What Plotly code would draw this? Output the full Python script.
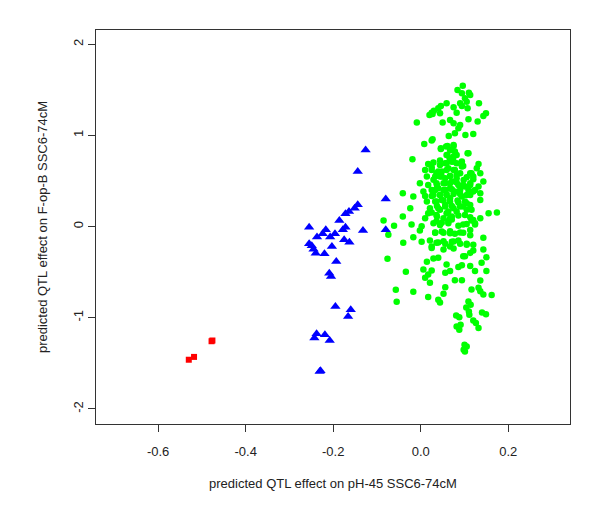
import plotly.graph_objects as go

# ---- data ----
red_x = [-0.530, -0.518, -0.478, -0.476]
red_y = [-1.461, -1.430, -1.258, -1.250]

blue_x = [-0.126, -0.144, -0.080, -0.080, -0.144, -0.151, -0.164, -0.172, -0.186, -0.255,
          -0.217, -0.224, -0.196, -0.178, -0.172, -0.237, -0.207, -0.175, -0.163, -0.132,
          -0.255, -0.249, -0.245, -0.203, -0.240, -0.220, -0.193, -0.209, -0.205, -0.195,
          -0.160, -0.166, -0.238, -0.243, -0.219, -0.208, -0.229, -0.231]
blue_y = [0.841, 0.603, 0.303, -0.036, 0.238, 0.201, 0.165, 0.139, 0.066, -0.007,
          -0.036, -0.080, -0.080, -0.036, -0.007, -0.116, -0.116, -0.146, -0.171, -0.044,
          -0.190, -0.210, -0.248, -0.219, -0.292, -0.299, -0.383, -0.511, -0.548, -0.877,
          -0.913, -0.986, -1.176, -1.223, -1.187, -1.249, -1.581, -1.590]

green_x = [
    # top
    0.096, 0.084, 0.094, 0.110, 0.113, 0.101, 0.090, 0.105, 0.094, 0.133,
    0.046, 0.059, 0.040, 0.030, 0.025, 0.020, 0.027, 0.044, 0.075, 0.107,
    0.082, 0.149, 0.143, -0.009, 0.050, 0.067, 0.075, 0.090, 0.086, 0.109,
    0.130, 0.078, 0.064, 0.102, 0.120, 0.027,
    # upper dense band
    0.046, 0.061, 0.067, 0.059, 0.075, 0.044, 0.059, 0.075, 0.094, 0.097,
    0.132, 0.128, 0.010, 0.025, 0.036, 0.048, 0.063, 0.078, 0.090, 0.116,
    0.136, 0.014, 0.029, 0.044, 0.056, 0.067, 0.082, 0.105, 0.120, 0.143,
    -0.002, 0.017, 0.036, 0.052, 0.067, 0.082, 0.097, 0.113, 0.132, 0.006,
    0.025, 0.040, 0.056, 0.071, 0.090, 0.109, 0.124, -0.041, -0.017, 0.010,
    0.029, 0.044, 0.059, 0.075, 0.094, 0.113, 0.136, 0.014, 0.036, 0.052,
    0.067, 0.086, 0.105, 0.136, 0.021, 0.040, 0.056, 0.075, 0.097, 0.116,
    0.017, 0.036, 0.059, 0.082, 0.101, 0.155, 0.174, 0.067, 0.113, 0.136,
    0.008, 0.025, 0.075, 0.109, 0.082, -0.019, 0.029, 0.017, -0.024, -0.041,
    0.010,
    # core fill
    0.046, 0.058, 0.075, 0.071, 0.078, 0.107, 0.061, 0.066, 0.056, 0.071,
    0.082, 0.025, 0.044, 0.094, 0.059, 0.075, 0.040, 0.113, 0.033, 0.048,
    0.067, 0.082, 0.098, 0.120, 0.037, 0.056, 0.071, 0.086, 0.101, 0.113,
    0.033, 0.052, 0.067, 0.025, 0.044, 0.059, 0.078, 0.090, 0.105, 0.120,
    0.033, 0.048, 0.067, 0.084, 0.101, 0.113, 0.037, 0.056, 0.071, 0.090,
    0.025, 0.044, 0.063, 0.105, 0.037, 0.071, 0.086, 0.052, 0.120, 0.124,
    0.029, 0.044, 0.063, 0.086, 0.105, 0.033, 0.048, 0.067, 0.090, 0.113,
    0.040, 0.056, 0.075, 0.090, 0.105, 0.120, 0.025, 0.067,
    # left stragglers
    -0.061, -0.085, -0.074, -0.076, -0.057,
    # lower dense band
    -0.021, 0.002, 0.036, 0.048, 0.063, 0.071, 0.097, 0.116, 0.124, -0.002,
    0.033, 0.052, 0.067, 0.078, 0.097, 0.113, 0.143, -0.017, -0.040, 0.002,
    0.021, 0.036, 0.052, 0.071, 0.086, 0.105, 0.025, 0.052, 0.075, 0.120,
    0.113, 0.101, 0.143, 0.029, 0.014, 0.040, 0.059, 0.097, 0.139, 0.150,
    0.006, 0.025, 0.017, 0.056, 0.067, 0.086, 0.094, 0.113, 0.124, 0.150,
    -0.034, 0.010, 0.021, 0.078, 0.094, 0.136, -0.017, 0.017, 0.052, 0.056,
    0.116, 0.132, 0.136, 0.143, 0.162,
    # bottom
    0.040, 0.044, -0.055, 0.109, 0.114, 0.104, 0.081, 0.088, 0.110, 0.111,
    0.120, 0.126, 0.132, 0.140, 0.149, 0.082, 0.088, 0.091, 0.100, 0.105,
    0.098, 0.101,
]
green_y = [
    # top
    1.545, 1.498, 1.461, 1.468, 1.443, 1.406, 1.352, 1.370, 1.322, 1.352,
    1.322, 1.352, 1.297, 1.271, 1.249, 1.224, 1.235, 1.242, 1.308, 1.297,
    1.249, 1.242, 1.213, 1.140, 1.140, 1.169, 1.132, 1.114, 1.078, 1.176,
    1.151, 1.023, 0.994, 1.005, 1.016, 0.957,
    # upper dense band
    0.859, 0.884, 0.840, 0.786, 0.768, 0.724, 0.694, 0.713, 0.713, 0.665,
    0.687, 0.639, 0.621, 0.621, 0.585, 0.603, 0.639, 0.621, 0.585, 0.585,
    0.585, 0.548, 0.512, 0.548, 0.530, 0.555, 0.530, 0.541, 0.519, 0.493,
    0.475, 0.457, 0.475, 0.475, 0.475, 0.482, 0.457, 0.475, 0.438, 0.384,
    0.402, 0.420, 0.402, 0.409, 0.402, 0.402, 0.402, 0.366, 0.329, 0.336,
    0.347, 0.347, 0.347, 0.358, 0.329, 0.347, 0.366, 0.274, 0.274, 0.285,
    0.274, 0.263, 0.256, 0.292, 0.201, 0.201, 0.219, 0.201, 0.219, 0.183,
    0.146, 0.128, 0.146, 0.164, 0.128, 0.146, 0.153, 0.092, 0.102, 0.092,
    0.906, 0.943, 0.884, 0.804, 0.786, 0.738, 0.702, 0.687, 0.201, 0.110,
    0.092,
    # core fill
    0.851, 0.877, 0.895, 0.840, 0.822, 0.804, 0.785, 0.749, 0.694, 0.712,
    0.694, 0.650, 0.676, 0.658, 0.621, 0.621, 0.603, 0.584, 0.548, 0.548,
    0.555, 0.566, 0.511, 0.548, 0.457, 0.475, 0.493, 0.457, 0.438, 0.457,
    0.402, 0.402, 0.420, 0.336, 0.347, 0.358, 0.384, 0.358, 0.347, 0.384,
    0.274, 0.292, 0.311, 0.285, 0.274, 0.237, 0.226, 0.237, 0.226, 0.219,
    0.153, 0.183, 0.164, 0.183, 0.110, 0.110, 0.121, 0.091, 0.073, 0.037,
    0.037, 0.018, 0.037, 0.008, 0.029, -0.066, -0.055, -0.073, -0.066, -0.037,
    -0.175, -0.190, -0.164, -0.190, -0.201, -0.201, -0.219, -0.219,
    # left stragglers
    0.008, 0.066, -0.091, -0.354, -0.694,
    # lower dense band
    0.022, 0.004, 0.059, 0.041, 0.059, 0.077, 0.022, 0.066, 0.022, -0.043,
    -0.069, -0.069, -0.051, -0.080, -0.069, -0.095, -0.124, -0.117, -0.179, -0.168,
    -0.153, -0.179, -0.160, -0.168, -0.153, -0.190, -0.234, -0.252, -0.241, -0.263,
    -0.289, -0.325, -0.252, -0.350, -0.387, -0.343, -0.416, -0.325, -0.398, -0.336,
    -0.471, -0.482, -0.526, -0.508, -0.489, -0.445, -0.424, -0.434, -0.489, -0.489,
    -0.496, -0.562, -0.617, -0.588, -0.588, -0.592, -0.716, -0.774, -0.738, -0.665,
    -0.690, -0.672, -0.709, -0.745, -0.752,
    # bottom
    -0.804, -0.833, -0.826, -0.822, -0.858, -0.888, -0.975, -0.994, -0.931, -0.968,
    -1.030, -1.059, -1.114, -0.942, -0.961, -1.096, -1.133, -1.078, -1.297, -1.315,
    -1.352, -1.370,
]

x_tickvals = [-0.6, -0.4, -0.2, 0.0, 0.2]
x_ticktext = ["-0.6", "-0.4", "-0.2", "0.0", "0.2"]
y_tickvals = [-2, -1, 0, 1, 2]
y_ticktext = ["-2", "-1", "0", "1", "2"]

x_title = "predicted QTL effect on pH-45 SSC6-74cM"
y_title = "predicted QTL effect on F-op-B SSC6-74cM"

FONT = "Liberation Sans, Arial, sans-serif"

fig = go.Figure()
fig.add_trace(go.Scatter(x=green_x, y=green_y, mode="markers",
                         marker=dict(symbol="circle", size=6.5, color="#00FF00", line=dict(width=0)),
                         showlegend=False, hoverinfo="skip"))
fig.add_trace(go.Scatter(x=blue_x, y=blue_y, mode="markers",
                         marker=dict(symbol="triangle-up", size=9, color="#0000FF", line=dict(width=0)),
                         showlegend=False, hoverinfo="skip"))
fig.add_trace(go.Scatter(x=red_x, y=red_y, mode="markers",
                         marker=dict(symbol="square", size=6, color="#FF0000", line=dict(width=0)),
                         showlegend=False, hoverinfo="skip"))

axis_common = dict(showgrid=False, zeroline=False, showline=True, linecolor="#333333",
                   linewidth=1, mirror=True, ticks="outside", ticklen=7, tickwidth=1,
                   tickcolor="#333333", tickfont=dict(family=FONT, size=13, color="#222222"))

fig.update_layout(
    width=600, height=519,
    paper_bgcolor="white", plot_bgcolor="white",
    margin=dict(l=88, r=38, t=22, b=103, autoexpand=False),
    font=dict(family=FONT, size=13, color="#222222"),
    xaxis=dict(range=[-0.742, 0.341], tickvals=x_tickvals, ticktext=x_ticktext,
               ticklabelstandoff=8,
               title=dict(text=x_title, font=dict(family=FONT, size=13), standoff=21),
               **axis_common),
    yaxis=dict(range=[-2.166, 2.156], tickvals=y_tickvals, ticktext=y_ticktext,
               tickangle=-90, ticklabelstandoff=0,
               title=dict(text=y_title, font=dict(family=FONT, size=13), standoff=20),
               **axis_common),
)

fig.write_html("out.html")
